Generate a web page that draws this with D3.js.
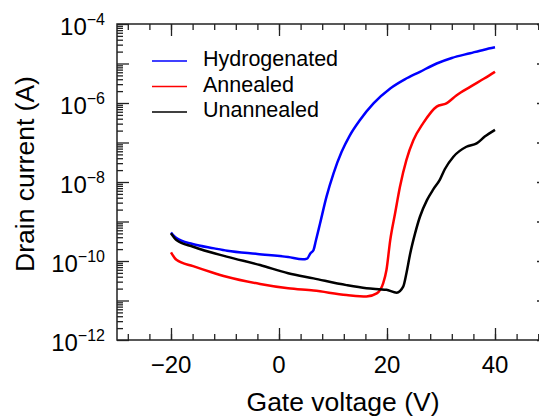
<!DOCTYPE html>
<html>
<head>
<meta charset="utf-8">
<script src="https://cdn.jsdelivr.net/npm/d3@7"></script>
<style>
  body { margin: 0; background: #fff; }
  svg { font-family: "Liberation Sans", Arial, sans-serif; }
</style>
</head>
<body>
<div id="chart"></div>
<script>
// Gate voltage (V) and drain current (A)
const hydroV = [-20, -19, -16, -12, -9.6, -4, 1.7, 4.4, 5.2, 5.8, 6.4, 6.8, 7.6, 8.8, 10.1, 11.6, 13.1, 15, 17.5, 20.6, 23.3, 26.1, 29.2, 32, 35.4, 38, 40];
const hydroI = [5.25e-10, 3.8e-10, 2.69e-10, 2.09e-10, 1.82e-10, 1.51e-10, 1.26e-10, 1.1e-10, 1.15e-10, 1.55e-10, 1.91e-10, 3.16e-10, 8.9e-10, 4.27e-9, 1.66e-8, 5.8e-8, 1.5e-7, 3.72e-7, 9.77e-7, 2.34e-6, 3.98e-6, 6.17e-6, 1.0e-5, 1.38e-5, 1.82e-5, 2.24e-5, 2.57e-5];

const annealV = [-20, -19, -15.9, -12.5, -9.7, -3.5, 1.7, 6.4, 12.5, 16.2, 18.1, 19.3, 19.9, 20.6, 21.5, 22.4, 23.6, 24.9, 26.7, 29.2, 31, 32.9, 35.4, 38, 40];
const annealI = [1.66e-10, 1.07e-10, 7.4e-11, 5.2e-11, 4.0e-11, 2.63e-11, 2.04e-11, 1.78e-11, 1.38e-11, 1.26e-11, 1.51e-11, 2.75e-11, 5.9e-11, 3.39e-10, 1.62e-9, 7.6e-9, 3.63e-8, 1.15e-7, 3.09e-7, 8.1e-7, 9.8e-7, 1.58e-6, 2.57e-6, 4.17e-6, 6.17e-6];

const unannealV = [-20, -19, -15.9, -9.7, -3.5, 1.7, 6.4, 12.5, 16.2, 19.9, 21.8, 23, 23.6, 24.3, 25.2, 26.1, 27.4, 28.6, 29.8, 30.7, 32.3, 34.7, 36.6, 38.1, 40];
const unannealI = [5.0e-10, 3.39e-10, 2.29e-10, 1.29e-10, 7.9e-11, 4.9e-11, 3.63e-11, 2.45e-11, 2.04e-11, 1.86e-11, 1.58e-11, 2.24e-11, 4.9e-11, 1.55e-10, 5.0e-10, 1.32e-9, 3.47e-9, 6.6e-9, 1.15e-8, 2.1e-8, 4.37e-8, 7.8e-8, 9.5e-8, 1.41e-7, 2.09e-7];

const seriesNames = ["Hydrogenated", "Annealed", "Unannealed"];
const seriesColors = ["#0000ff", "#ff0000", "#000000"];

const xMajorTicks = [-20, 0, 20, 40];
const yLabelExps = [-4, -6, -8, -10, -12];

const width = 539, height = 416;
const margin = { left: 117, top: 24, right: -10, bottom: 76 };

const svg = d3.select("#chart")
    .append("svg")
    .attr("width", width)
    .attr("height", height);

const x = d3.scaleLinear()
    .domain([-30, 50])
    .range([margin.left, width - margin.right]);

const y = d3.scaleLog()
    .domain([1e-12, 1e-4])
    .range([height - margin.bottom, margin.top]);

const axisColor = "#222";

// Minor / major ticks on all four sides, pointing inward
const xMinor = d3.range(-28, 50, 4);
const yDecades = d3.range(-12, -3).map(e => Math.pow(10, e));
const yMinor = [];
d3.range(-12, -4).forEach(e => {
    for (let m = 2; m <= 9; m++) yMinor.push(m * Math.pow(10, e));
});

function tickAxis(axisFn, scale, values, size, transform) {
    const g = svg.append("g")
        .attr("transform", transform)
        .call(axisFn(scale).tickValues(values).tickSize(-size).tickSizeOuter(0).tickFormat(""));
    g.select(".domain").remove();
    g.selectAll("line").attr("stroke", axisColor).attr("stroke-width", 1.3);
}

const bottomY = y(1e-12), topY = y(1e-4);

tickAxis(d3.axisBottom, x, xMinor, 6, `translate(0,${bottomY})`);
tickAxis(d3.axisBottom, x, xMajorTicks, 12, `translate(0,${bottomY})`);
tickAxis(d3.axisTop, x, xMinor, 6, `translate(0,${topY})`);
tickAxis(d3.axisTop, x, xMajorTicks, 12, `translate(0,${topY})`);
tickAxis(d3.axisLeft, y, yMinor, 6, `translate(${x(-30)},0)`);
tickAxis(d3.axisLeft, y, yDecades, 12, `translate(${x(-30)},0)`);
tickAxis(d3.axisRight, y, yMinor, 6, `translate(${x(50)},0)`);
tickAxis(d3.axisRight, y, yDecades, 12, `translate(${x(50)},0)`);

// Frame
svg.append("rect")
    .attr("x", x(-30))
    .attr("y", topY)
    .attr("width", x(50) - x(-30))
    .attr("height", bottomY - topY)
    .attr("fill", "none")
    .attr("stroke", axisColor)
    .attr("stroke-width", 1.5);

// X tick labels
svg.append("g")
    .selectAll("text")
    .data(xMajorTicks)
    .join("text")
    .attr("x", d => x(d))
    .attr("y", bottomY + 33)
    .attr("text-anchor", "middle")
    .attr("font-size", 24)
    .text(d => d < 0 ? "\u2212" + Math.abs(d) : d);

// Y tick labels, 10 with superscript exponent
const yLab = svg.append("g")
    .selectAll("text")
    .data(yLabelExps)
    .join("text")
    .attr("x", x(-30) - 12)
    .attr("y", d => y(Math.pow(10, d)) + 11)
    .attr("text-anchor", "end")
    .attr("font-size", 24);
yLab.append("tspan").text("10");
yLab.append("tspan")
    .attr("font-size", 16)
    .attr("dy", -10)
    .text(d => "\u2212" + Math.abs(d));

// Axis titles
svg.append("text")
    .attr("x", 343)
    .attr("y", 411)
    .attr("text-anchor", "middle")
    .attr("font-size", 26.5)
    .text("Gate voltage (V)");

svg.append("text")
    .attr("transform", "translate(34,174) rotate(-90)")
    .attr("text-anchor", "middle")
    .attr("font-size", 26.5)
    .text("Drain current (A)");

// Curves
const series = [
    { v: hydroV, i: hydroI },
    { v: annealV, i: annealI },
    { v: unannealV, i: unannealI }
];

const line = d3.line()
    .x(d => x(d[0]))
    .y(d => y(d[1]))
    .curve(d3.curveMonotoneX);

series.forEach((s, k) => {
    svg.append("path")
        .datum(s.v.map((v, j) => [v, s.i[j]]))
        .attr("d", line)
        .attr("fill", "none")
        .attr("stroke", seriesColors[k])
        .attr("stroke-width", 2.5)
        .attr("stroke-linejoin", "round");
});

// Legend
const legend = svg.append("g");
seriesNames.forEach((name, k) => {
    const ly = 61 + k * 25.5;
    legend.append("line")
        .attr("x1", 152).attr("x2", 187)
        .attr("y1", ly).attr("y2", ly)
        .attr("stroke", seriesColors[k])
        .attr("stroke-width", 1.5);
    legend.append("text")
        .attr("x", 203)
        .attr("y", ly + 5)
        .attr("font-size", 21.5)
        .text(name);
});
</script>
</body>
</html>
